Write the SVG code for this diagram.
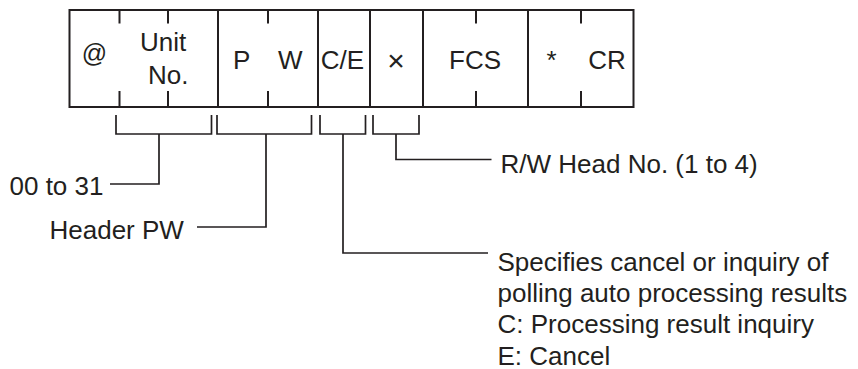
<svg xmlns="http://www.w3.org/2000/svg" width="858" height="369" viewBox="0 0 858 369">
  <style>
    text { font-family: "Liberation Sans", Arial, sans-serif; font-size: 26px; fill: #231f20; }
    .box { fill: none; stroke: #231f20; stroke-width: 2; }
    .tick { stroke: #231f20; stroke-width: 2; }
    .conn { fill: none; stroke: #231f20; stroke-width: 1.7; }
    .mid { text-anchor: middle; }
  </style>
  <rect width="858" height="369" fill="#ffffff"/>
  <g id="frame">
    <rect class="box" x="69.5" y="10" width="564" height="97"/>
    <line class="tick" x1="218" y1="10" x2="218" y2="107"/>
    <line class="tick" x1="318" y1="10" x2="318" y2="107"/>
    <line class="tick" x1="370" y1="10" x2="370" y2="107"/>
    <line class="tick" x1="423" y1="10" x2="423" y2="107"/>
    <line class="tick" x1="528" y1="10" x2="528" y2="107"/>
    <path class="tick" d="M119.5 10V23.5M168 10V23.5M268 10V23.5M476 10V23.5M581 10V23.5M119.5 91V107M168 91V107M268 91V107M476 91V107M581 91V107"/>
  </g>
  <g id="field-at"><text x="94.5" y="62" class="mid" style="font-size:25px">@</text></g>
  <g id="field-unit"><text x="140" y="51">Unit</text><text x="148" y="83.5">No.</text></g>
  <g id="field-pw"><text x="233" y="68.5">P</text><text x="278" y="68.5">W</text></g>
  <g id="field-ce"><text x="342.5" y="68.5" class="mid">C/E</text></g>
  <g id="field-x"><text x="396" y="71" class="mid" style="font-size:30px">×</text></g>
  <g id="field-fcs"><text x="475" y="68.5" class="mid">FCS</text></g>
  <g id="field-star"><text x="551.5" y="68.5" class="mid">*</text></g>
  <g id="field-cr"><text x="607" y="68.5" class="mid">CR</text></g>
  <g id="connectors">
    <path class="conn" d="M116 115V134H211.5V115M159 134V184H110"/>
    <path class="conn" d="M217 115V134H311.5V115M266 134V227H197"/>
    <path class="conn" d="M320 115V134H365.5V115M343 134V253H488"/>
    <path class="conn" d="M373 115V134H419V115M396 134V159.5H491.5"/>
  </g>
  <g id="label-unit"><text x="9.5" y="194.5">00 to 31</text></g>
  <g id="label-pw"><text x="49.5" y="238.5">Header PW</text></g>
  <g id="label-head"><text x="500.5" y="172.5">R/W Head No. (1 to 4)</text></g>
  <g id="label-ce">
    <text x="497.5" y="271">Specifies cancel or inquiry of</text>
    <text x="497.5" y="302.2">polling auto processing results</text>
    <text x="497.5" y="333.4">C: Processing result inquiry</text>
    <text x="497.5" y="364.5">E: Cancel</text>
  </g>
</svg>
